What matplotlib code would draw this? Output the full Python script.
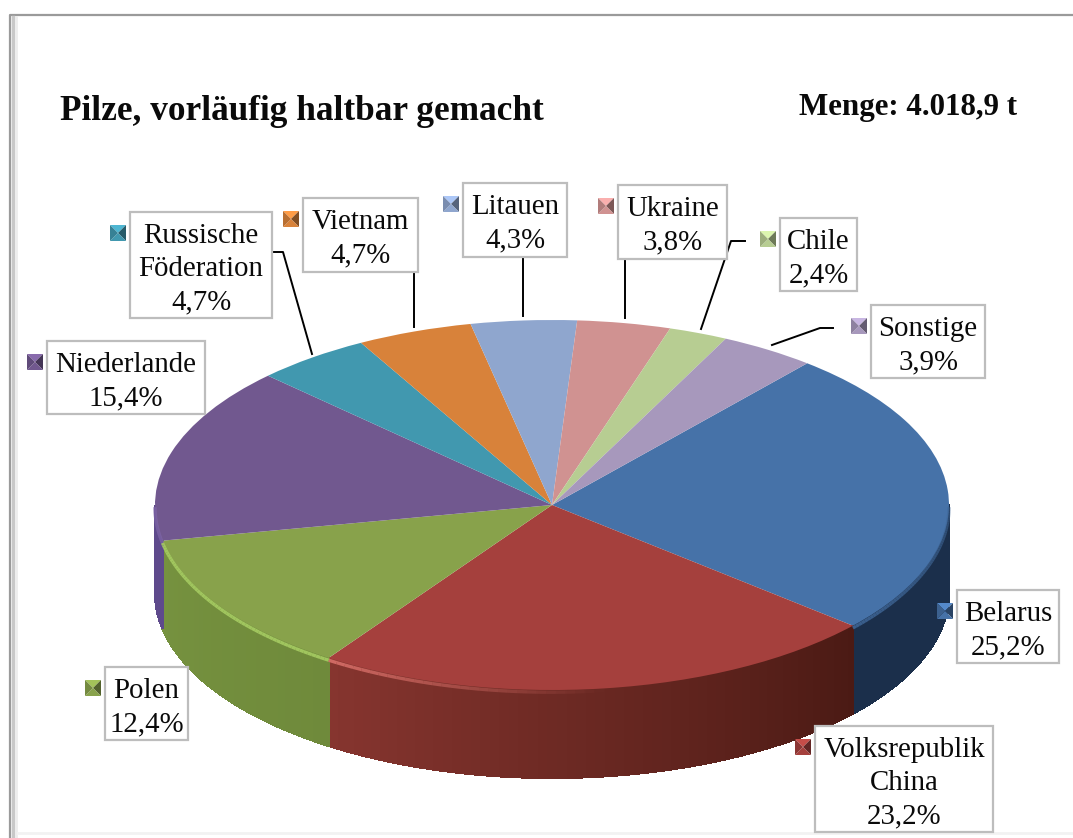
import numpy as np
import matplotlib
matplotlib.use('Agg')
import matplotlib.pyplot as plt
from matplotlib.colors import to_rgb
from matplotlib.patches import Polygon, Rectangle

W, H = 1073, 838

# Daten
countries = ["Belarus", "Volksrepublik\nChina", "Polen", "Niederlande",
             "Russische\nFöderation", "Vietnam", "Litauen", "Ukraine",
             "Chile", "Sonstige"]
shares = [25.2, 23.2, 12.4, 15.4, 4.7, 4.7, 4.3, 3.8, 2.4, 3.9]

# Farben: Oberseite, Seitenwand rechts/links im Bild, Kante
top_colors = ["#4672A8", "#A5403D", "#88A24B", "#71588F", "#4198AF",
              "#D8823A", "#8FA6CE", "#D09291", "#B7CD92", "#A798BC"]
side_right = ["#1B2F4B", "#4A1A14", "#6F8A3B", "#5E4A8C", "#4198AF",
              "#D8823A", "#8FA6CE", "#D09291", "#B7CD92", "#A798BC"]
side_left = ["#1B2F4B", "#86352F", "#76923F", "#5E4A8C", "#4198AF",
             "#D8823A", "#8FA6CE", "#D09291", "#B7CD92", "#A798BC"]
rim_colors = ["#3E6595", "#D9706A", "#A6CC62", "#7F66A8", None,
              None, None, None, None, None]
rim_alpha_right = [0.5, 0.0, 0.9, 0.9, 0, 0, 0, 0, 0, 0]

# Label-Kästen in Pixeln (links, oben, rechts, unten)
boxes = [(957, 590, 1059, 663), (815, 726, 993, 832), (105, 667, 188, 740),
         (47, 341, 205, 414), (130, 212, 272, 318), (303, 198, 418, 272),
         (463, 183, 567, 257), (618, 185, 727, 259), (780, 218, 857, 291),
         (871, 305, 985, 378)]
leaders = [None, None, None, None,
           [(272, 252), (283, 252), (312, 354)],
           [(414, 272), (414, 327)],
           [(523, 257), (523, 316)],
           [(625, 260), (625, 318)],
           [(745, 241), (731, 241), (701, 329)],
           [(833, 328), (820, 328), (772, 345)]]

CX, CY, RX, RY, DEPTH = 552, 505, 397, 185, 88
START = 50  # Grad, matplotlib-Zählung

plt.rcParams['font.family'] = ['Liberation Serif', 'DejaVu Serif']
fig = plt.figure(figsize=(W / 100, H / 100), dpi=100, facecolor="white")

# Kuchen: Achse so gestreckt, dass aus dem Kreis eine Ellipse wird
d = DEPTH / RY
ax = fig.add_axes([(CX - RX) / W, 1 - (CY + RY + DEPTH) / H,
                   2 * RX / W, (2 * RY + DEPTH) / H])
ax.pie(shares, colors=top_colors, startangle=START, counterclock=False,
       radius=1, wedgeprops={"zorder": 3, "linewidth": 0})
ax.set_aspect("auto")
ax.set_xlim(-1, 1)
ax.set_ylim(-1 - d, 1)
ax.axis("off")

# Seitenwand und Kante, nur die vordere Hälfte
edges = np.cumsum([0] + shares) * 3.6 + (90 - START)
for i in range(len(shares)):
    t0, t1 = max(edges[i], 90), min(edges[i + 1], 270)
    if t1 <= t0:
        continue
    steps = np.linspace(t0, t1, 61)
    c_r, c_l = np.array(to_rgb(side_right[i])), np.array(to_rgb(side_left[i]))
    for k in range(60):
        tt = np.radians(np.linspace(steps[k], steps[k + 1], 4))
        f = (k + 0.5) / 60
        col = c_r * (1 - f) + c_l * f
        xs = np.sin(tt)
        ys = np.cos(tt)
        ax.fill(np.r_[xs, xs[::-1]], np.r_[ys, ys[::-1] - d], color=col,
                lw=0.8, zorder=1, clip_on=False, antialiased=False)
    if rim_colors[i]:
        # Lichtkante läuft nach rechts aus
        for k in range(60):
            f = (k + 0.5) / 60
            a = rim_alpha_right[i] * (1 - f) + 0.9 * f
            if i == 1:
                a = max(0.0, 0.9 * (f - 0.5) / 0.5)
            tt = np.radians(np.linspace(steps[k], steps[k + 1], 4))
            ax.plot(np.sin(tt), np.cos(tt) - 0.012, color=rim_colors[i], lw=2.4,
                    alpha=a, zorder=4, solid_capstyle="butt", clip_on=False)

# Overlay in Pixelkoordinaten
ov = fig.add_axes([0, 0, 1, 1], zorder=5)
ov.set_xlim(0, W)
ov.set_ylim(H, 0)
ov.axis("off")
ov.patch.set_alpha(0)

# Rahmen
ov.plot([10, 10, W], [H, 15, 15], color="#9A9A9A", lw=1.6)
ov.plot([13, 13], [17, H], color="#C8C8C8", lw=2.5)
ov.plot([16, 16], [17, H], color="#EDEDED", lw=2)
ov.plot([18, W], [833, 833], color="#F2F2F2", lw=2)

ov.text(60, 111, "Pilze, vorläufig haltbar gemacht", fontsize=25.4,
        fontweight="bold", va="center", ha="left", color="#0A0A0A")
ov.text(799, 108, "Menge: 4.018,9 t", fontsize=22.3, fontweight="bold",
        va="center", ha="left", color="#0A0A0A")


def marker(x, y, color, size=16):
    # kleines Quadrat mit Pyramiden-Schattierung
    c = np.array(to_rgb(color))
    mx, my = x + size / 2, y + size / 2
    corners = [(x, y), (x + size, y), (x + size, y + size), (x, y + size)]
    shades = [1.2, 0.6, 1.0, 0.85]
    for j in range(4):
        ov.add_patch(Polygon([corners[j], corners[(j + 1) % 4], (mx, my)],
                             facecolor=np.clip(c * shades[j], 0, 1), lw=0))


for name, val, col, box, lead in zip(countries, shares, top_colors, boxes, leaders):
    x0, y0, x1, y1 = box
    if lead:
        ov.plot(*zip(*lead), color="black", lw=1.4)
    ov.add_patch(Rectangle((x0, y0), x1 - x0, y1 - y0, facecolor="white",
                           edgecolor="#BDBDBD", lw=1.6, zorder=3))
    ov.text((x0 + x1) / 2, (y0 + y1) / 2 + 4,
            name + "\n" + f"{val:.1f}".replace(".", ",") + "%",
            fontsize=20.8, ha="center", va="center", linespacing=1.36,
            color="#0A0A0A", zorder=4)
    marker(x0 - 20, y0 + 13, col)

fig.savefig("out.png", dpi=100)
plt.close(fig)
